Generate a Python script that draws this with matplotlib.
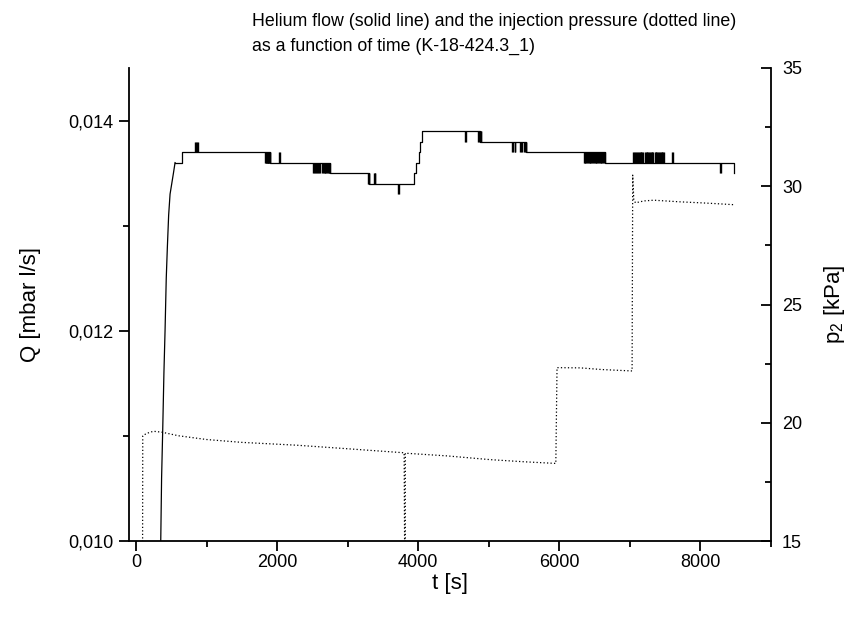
import matplotlib
matplotlib.use("Agg")
import matplotlib.pyplot as plt
from matplotlib.ticker import MultipleLocator, FuncFormatter

plt.rcParams['font.family'] = ['Liberation Sans', 'DejaVu Sans']
plt.rcParams['mathtext.fontset'] = 'custom'
plt.rcParams['mathtext.rm'] = 'Liberation Sans'

# helium flow Q [mbar l/s], initial rise
rise_t = [340, 350, 362, 378, 395, 411, 428, 444, 462, 482, 506, 530, 553]
rise_q = [0.0094, 0.0100, 0.0106, 0.01106, 0.0116, 0.0120, 0.0125, 0.0128, 0.0131,
          0.0133, 0.0134, 0.0135, 0.0136]

# logged levels afterwards (step trace)
q_t = [553, 648, 1900, 2752, 3300, 3934, 3975, 4005, 4030, 4052, 4880, 5530, 6650,
       8470, 8478]
q_val = [0.0136, 0.0137, 0.0136, 0.0135, 0.0134, 0.0135, 0.0136, 0.0137, 0.0138,
         0.0139, 0.0138, 0.0137, 0.0136, 0.0135, 0.0135]

# short flickers of the flow reading between two neighbouring levels
flick_t = [840, 852, 864, 876,
           1832, 1838, 1845, 1851, 1858, 1864, 1871, 1877, 1884, 1890, 1897, 1903,
           2028, 2038,
           2508, 2520, 2530, 2555, 2567, 2579, 2591, 2603, 2636, 2648, 2660, 2672,
           2684, 2696, 2705, 2716, 2728, 2740, 2750,
           3283, 3295, 3305, 3368, 3380, 3392,
           3716, 3726,
           4662, 4672, 4850, 4860, 4885, 4895,
           5331, 5345, 5370, 5378, 5440, 5452, 5464, 5497, 5509, 5521, 5530,
           6345, 6357, 6369, 6381, 6393, 6405, 6417, 6429, 6441, 6453, 6465, 6477,
           6489, 6501, 6513, 6525, 6537, 6549, 6561, 6573, 6585, 6597, 6609, 6621,
           6633, 6645,
           7047, 7059, 7071, 7092, 7104, 7116, 7128, 7140, 7152, 7164, 7176, 7188,
           7212, 7224, 7236, 7248, 7260, 7272, 7284, 7296, 7308, 7320, 7330,
           7352, 7364, 7376, 7388, 7400, 7412, 7424, 7436, 7448, 7460, 7472, 7480,
           7595, 7605,
           8280, 8290]
flick_lo = ([0.0137] * 4 + [0.0136] * 12 + [0.0136] * 2 + [0.0135] * 19 +
            [0.0134] * 6 + [0.0133] * 2 + [0.0138] * 6 + [0.0137] * 11 +
            [0.0136] * 26 + [0.0136] * 35 + [0.0136] * 2 + [0.0135] * 2)

# injection pressure p2 [kPa]
p_t = [40, 90, 95, 150, 246, 369, 600, 1003, 1500, 2279, 3000, 3800, 3815, 3817,
       3830, 4400, 5021, 5500, 5950, 5967, 6300, 6600, 7031, 7040, 7055, 7080, 7200,
       7338, 7716, 8000, 8189, 8473]
p_val = [10.0, 10.0, 19.45, 19.55, 19.64, 19.6, 19.45, 19.29, 19.17, 19.05, 18.9,
         18.73, 10.0, 18.72, 18.71, 18.6, 18.44, 18.35, 18.28, 22.33, 22.32, 22.25,
         22.19, 30.47, 29.41, 29.3, 29.38, 29.41, 29.34, 29.3, 29.27, 29.22]

fig = plt.figure(figsize=(8.46, 6.18), dpi=100)
ax = fig.add_axes([129 / 846, 1 - 541 / 618, 642 / 846, 473 / 618])
ax2 = ax.twinx()

ax.plot(rise_t, rise_q, color='black', lw=0.9)
ax.plot(q_t, q_val, color='black', lw=0.9, drawstyle='steps-post')
ax.vlines(flick_t, flick_lo, [v + 0.0001 for v in flick_lo], color='black', lw=1.0)
ax2.plot(p_t, p_val, color='black', lw=0.9, linestyle=(0, (1, 1.8)))

ax.set_xlim(-100, 9000)
ax.set_ylim(0.010, 0.0145)
ax2.set_ylim(15, 35)

ax.xaxis.set_major_locator(MultipleLocator(2000))
ax.xaxis.set_minor_locator(MultipleLocator(1000))
ax.yaxis.set_major_locator(MultipleLocator(0.002))
ax.yaxis.set_minor_locator(MultipleLocator(0.001))
ax.yaxis.set_major_formatter(FuncFormatter(lambda v, p: f"{v:.3f}".replace('.', ',')))
ax2.yaxis.set_major_locator(MultipleLocator(5))
ax2.yaxis.set_minor_locator(MultipleLocator(2.5))

for a in (ax, ax2):
    a.spines['top'].set_visible(False)
    for s in a.spines.values():
        s.set_linewidth(1.3)
ax.spines['right'].set_visible(False)
ax2.spines['left'].set_visible(False)
ax2.spines['bottom'].set_visible(False)

ax.tick_params(which='major', direction='out', length=7, width=1.3, labelsize=13, pad=4)
ax.tick_params(axis='x', which='major', pad=2.5)
ax.tick_params(which='minor', direction='out', length=4, width=1.3)
ax2.tick_params(which='major', direction='in', length=7, width=1.3, labelsize=13, pad=8)
ax2.tick_params(which='minor', direction='in', length=4, width=1.3)

ax.set_xlabel('t [s]', fontsize=16, labelpad=1)
ax.set_ylabel('Q [mbar l/s]', fontsize=16, labelpad=20)
ax2.set_ylabel(r'p$_\mathregular{2}$ [kPa]', fontsize=16, labelpad=14)

fig.text(252 / 846, 1 - 34 / 618,
         'Helium flow (solid line) and the injection pressure (dotted line)\n'
         'as a function of time (K-18-424.3_1)',
         fontsize=12.8, ha='left', va='center', linespacing=1.6)

fig.savefig('out.png', dpi=100)
